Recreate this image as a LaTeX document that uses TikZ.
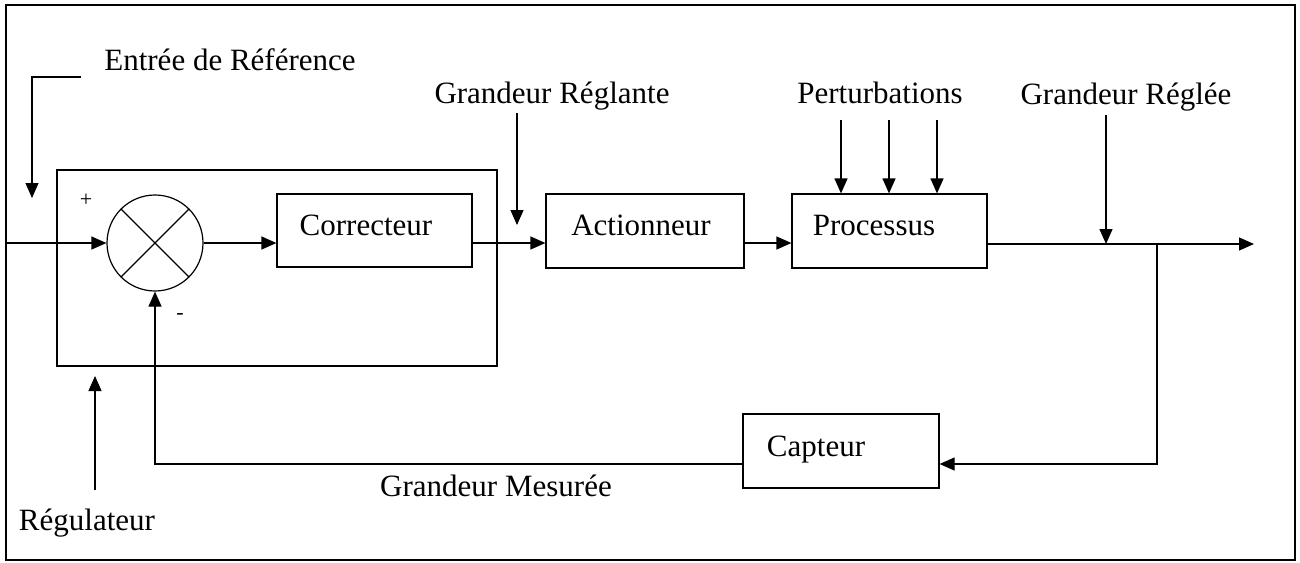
\documentclass[tikz,border=0pt]{standalone}
\usepackage{fontspec}
\setmainfont{Liberation Serif}
\usetikzlibrary{arrows.meta,calc}
\begin{document}
\begin{tikzpicture}[x=1pt,y=-1pt,line width=1.2pt,
  blk/.style={draw,rectangle,inner sep=0pt},
  lbl/.style={font=\fontsize{31}{36}\selectfont,inner sep=0pt,anchor=base},
  sgn/.style={font=\fontsize{22}{26}\selectfont,inner sep=0pt},
  arr/.style={-{Triangle[length=15pt,width=13pt]}}]
\useasboundingbox (0,0) rectangle (1300,562);
% frame
\draw (6,5) rectangle (1295,560);
% blocks
\node[blk,minimum width=440pt,minimum height=196pt] (reg) at (277,268) {};
\node[blk,minimum width=195pt,minimum height=73pt] (corr) at (374.5,230.5) {};
\node[blk,minimum width=198pt,minimum height=74pt] (act) at (645,231) {};
\node[blk,minimum width=195pt,minimum height=74pt] (proc) at (889.5,231) {};
\node[blk,minimum width=196pt,minimum height=74pt] (capt) at (841,451) {};
\node[draw,circle,inner sep=0pt,minimum size=96pt] (sum) at (155,243) {};
\draw (sum.north west) -- (sum.south east);
\draw (sum.north east) -- (sum.south west);
% block texts
\node[lbl] at (366,235) {Correcteur};
\node[lbl] at (641,235) {Actionneur};
\node[lbl] at (874,235) {Processus};
\node[lbl] at (816,456) {Capteur};
% labels
\node[lbl] (tref) at (230,70) {Entrée de Référence};
\node[lbl] (treg) at (552,103) {Grandeur Réglante};
\node[lbl] (tpert) at (880,103) {Perturbations};
\node[lbl] (tregl) at (1126,104) {Grandeur Réglée};
\node[lbl] (tmes) at (496,496) {Grandeur Mesurée};
\node[lbl] (treglt) at (87,530) {Régulateur};
\node[sgn] at (86,200) {+};
\node[sgn] at (180,316) {-};
% coordinates
\coordinate (in) at (6,243);
\coordinate (out) at (1254,244);
\coordinate (br) at (1157,244);
\coordinate (fb) at (155,464);
\coordinate (r1) at (81,77);
\coordinate (r2) at (32,77);
\coordinate (r3) at (32,198);
\coordinate (gr1) at (517,113);
\coordinate (gr2) at (517,225);
\coordinate (gl1) at (1106,115);
\coordinate (gl2) at (1106,244);
\coordinate (rg1) at (95,490);
\coordinate (rg2) at (95,376);
\coordinate (p1) at (841,120);
\coordinate (p2) at (889,120);
\coordinate (p3) at (937,120);
% main chain
\draw[arr] (in) -- (sum.west);
\draw[arr] (sum.east) -- (sum.east -| corr.west);
\draw[arr] (corr.east |- sum.east) -- (act.west |- sum.east);
\draw[arr] (act.east |- sum.east) -- (proc.west |- sum.east);
\draw[arr] (proc.east |- out) -- (out);
% feedback
\draw[arr] (br) -- (br |- fb) -- (capt.east |- fb);
\draw[arr] (capt.west |- fb) -- (fb) -- (sum.south);
% pointer arrows
\draw[arr] (r1) -- (r2) -- (r3);
\draw[arr] (gr1) -- (gr2);
\draw[arr] (gl1) -- (gl2);
\draw[arr] (rg1) -- (rg2);
\draw[arr] (p1) -- (p1 |- proc.north);
\draw[arr] (p2) -- (p2 |- proc.north);
\draw[arr] (p3) -- (p3 |- proc.north);
\end{tikzpicture}
\end{document}
